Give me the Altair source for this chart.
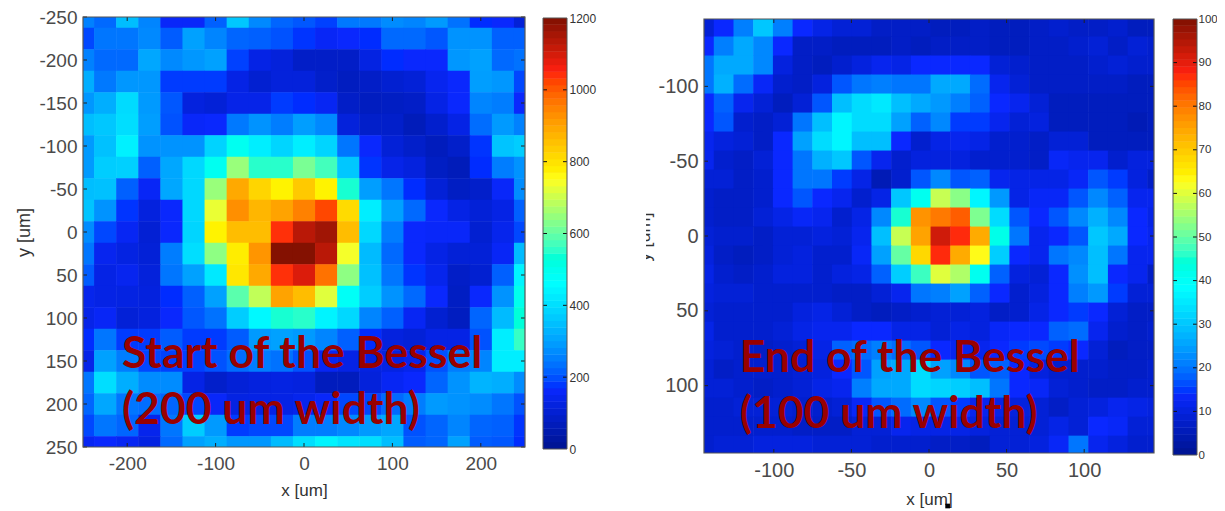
import altair as alt
import pandas as pd

left_rows = [
[255,225,345,260,160,160,215,360,265,220,205,185,245,245,270,260,290,235,170,165,110],
[190,240,240,265,210,300,260,220,215,200,175,155,165,170,225,225,205,280,280,215,215],
[255,225,225,310,265,285,300,185,130,115,85,85,85,125,170,165,165,285,300,225,235],
[320,245,285,285,180,180,180,130,100,115,115,90,75,85,100,110,145,165,295,285,190],
[285,320,395,290,205,120,110,135,135,180,170,150,85,75,80,85,130,165,260,250,165],
[345,360,400,295,200,160,165,245,280,250,295,265,115,90,90,65,95,130,230,290,255],
[290,350,435,280,280,280,380,490,430,385,430,385,240,165,110,90,70,90,175,355,370],
[290,370,375,215,310,390,490,650,550,550,620,570,360,175,135,120,80,65,170,250,280],
[345,350,215,155,310,390,650,890,820,770,840,770,540,295,240,170,110,80,90,160,270],
[355,280,175,120,165,390,730,930,870,900,950,1020,810,430,300,225,165,130,110,130,215],
[270,190,150,105,165,385,770,860,860,1040,1130,1160,860,390,250,165,160,160,100,140,190],
[240,145,125,110,250,400,640,780,920,1195,1195,1130,740,340,225,165,130,110,110,155,340],
[210,130,145,115,240,300,420,790,890,1040,1090,970,640,350,240,175,140,85,100,215,440],
[140,130,125,120,170,215,300,590,690,900,860,720,480,370,280,225,165,80,165,280,500],
[135,155,110,120,165,205,235,370,450,540,550,440,390,260,215,150,100,75,220,340,530],
[170,240,180,180,210,180,180,210,290,300,290,260,215,170,120,110,130,130,200,430,560],
[135,300,250,190,185,185,200,230,250,235,200,150,130,125,125,140,200,250,260,430,430],
[240,400,320,270,270,130,90,110,120,125,120,70,70,115,150,165,220,280,330,320,270],
[220,310,240,230,220,190,160,125,130,130,140,160,190,190,225,250,290,280,270,240,200],
[190,240,220,140,240,370,290,180,190,190,250,250,265,290,310,200,220,260,220,215,175],
[150,165,150,125,225,300,320,285,285,340,400,440,410,400,345,210,220,300,210,205,170],
]
right_rows = [
[9,14,21,30,21,14,11,9,9,7,7,7,6,6,7,6,6,7,8,7,7,8,6,6],
[14,21,26,22,14,7,7,6,6,6,7,6,7,7,7,6,6,7,7,8,9,7,9,8],
[20,26,26,22,10,7,6,8,10,12,11,14,14,14,14,9,8,7,7,7,8,9,8,8],
[20,27,19,13,8,7,10,17,20,21,20,20,26,26,19,12,9,7,7,7,7,7,6,6],
[14,18,12,9,6,9,17,29,33,35,29,26,24,21,18,14,12,9,6,6,6,6,6,6],
[14,17,8,7,9,20,29,37,33,33,25,18,22,15,15,12,9,10,6,6,6,6,5,6],
[12,10,9,7,14,25,33,37,29,29,14,8,11,12,11,8,8,7,9,9,6,6,6,6],
[12,8,7,9,14,20,27,30,17,12,8,10,10,10,8,8,8,7,13,12,12,8,10,10],
[9,9,7,8,14,20,20,15,11,5,8,17,22,17,18,12,11,11,11,13,17,15,10,7],
[8,7,7,8,14,17,14,12,8,11,30,41,58,53,37,24,11,13,13,17,22,18,12,12],
[8,7,7,9,11,13,12,8,11,22,45,77,80,83,52,33,17,14,17,22,27,22,14,11],
[9,8,8,7,9,9,10,9,12,29,58,75,92,87,74,42,20,12,14,17,30,26,14,12],
[10,7,6,7,9,10,8,8,13,25,50,68,87,74,63,31,14,12,20,22,29,20,12,12],
[11,8,7,8,10,10,8,10,11,18,31,47,60,56,41,18,10,9,14,23,29,14,12,7],
[10,9,9,8,8,8,8,7,7,9,12,20,21,25,18,14,8,10,14,21,24,15,9,9],
[9,8,8,8,8,10,11,9,7,6,7,8,9,9,10,7,8,11,14,15,14,9,7,7],
[11,8,8,8,9,11,12,12,14,14,11,11,9,11,10,13,14,14,18,19,12,8,7,8],
[10,9,8,7,8,9,11,18,19,21,19,17,14,12,12,14,15,16,15,14,9,6,7,7],
[9,7,8,8,8,9,10,14,17,25,26,33,25,22,17,18,14,10,8,8,8,7,7,8],
[9,9,8,7,8,9,11,12,21,26,26,33,32,31,29,20,14,13,9,8,7,7,8,8],
[8,8,9,9,9,8,8,9,13,17,19,22,17,15,12,11,10,9,7,9,10,12,11,10],
[8,8,8,8,8,7,7,7,9,9,12,11,11,11,10,9,9,9,11,9,14,13,9,9],
[8,9,9,10,10,10,9,9,9,8,8,8,7,7,6,9,9,10,13,20,12,10,8,8],
]
left_xt = [-200,-100,0,100,200]
left_yt = [-250,-200,-150,-100,-50,0,50,100,150,200,250]
right_xt = [-100,-50,0,50,100]
right_yt = [-100,-50,0,50,100]
left_cb = [0,200,400,600,800,1000,1200]
right_cb = [0,10,20,30,40,50,60,70,80,90,100]
left_text = ["Start of the Bessel", "(200 um width)"]
right_text = ["End of the Bessel", "(100 um width)"]

jet_pos = [0,0.14,0.385,0.625,0.875,1]
jet_col = ["#001490","#0a28ff","#00ffff","#ffff20","#ff2010","#801000"]
FONT = "Liberation Sans"
LAB = "#4a4a4a"
TXT = "#990000"
EXPR = "'' + datum.value"
FRAME = "#555555"

def cells(rows, x0, dx, y0, dy, lo, hi, eps):
    clamp = lambda a: max(lo, min(hi, a))
    out = []
    for r, row in enumerate(rows):
        for c, v in enumerate(row):
            out.append(dict(x=clamp(x0+dx*c), x2=clamp(x0+dx*(c+1)+eps), y=clamp(y0+dy*r), y2=clamp(y0+dy*(r+1)+eps), v=v))
    return pd.DataFrame(out)

def panel(df, dom, xt, yt, vmax, w, top, h, size, xpad, lpad, ypad, ytitle, texts, tx, tys):
    cs = alt.Scale(domain=[p*vmax for p in jet_pos], range=jet_col)
    xs = alt.Scale(domain=dom, nice=False, zero=False)
    ys = alt.Scale(domain=dom, nice=False, zero=False, range=[top, top+h])
    heat = alt.Chart(df).mark_rect().encode(
        x=alt.X("x:Q", scale=xs, axis=alt.Axis(values=xt, title="x [um]", grid=False, domain=False, ticks=False,
            labelFontSize=size, labelColor=LAB, labelFont=FONT, labelPadding=lpad, titleFont=FONT, titleFontSize=17,
            titleFontWeight="normal", titleColor="#333333", titlePadding=xpad, labelExpr=EXPR, labelFlush=False)),
        x2="x2:Q",
        y=alt.Y("y:Q", scale=ys, axis=alt.Axis(values=yt, title=ytitle, grid=False, domain=False, ticks=False,
            labelFontSize=size, labelColor=LAB, labelFont=FONT, labelPadding=6, titleFont=FONT, titleFontSize=18,
            titleFontWeight="normal", titleColor="#333333", titlePadding=ypad, labelExpr=EXPR, labelFlush=False)),
        y2="y2:Q",
        color=alt.Color("v:Q", scale=cs, legend=None),
    )
    xd = pd.DataFrame({"t": xt}); yd = pd.DataFrame({"t": yt})
    tick = dict(color="#222222", strokeWidth=1)
    t1 = alt.Chart(xd).mark_rule(**tick).encode(x=alt.X("t:Q", scale=xs), y=alt.value(top), y2=alt.value(top+4))
    t2 = alt.Chart(xd).mark_rule(**tick).encode(x=alt.X("t:Q", scale=xs), y=alt.value(top+h-4), y2=alt.value(top+h))
    t3 = alt.Chart(yd).mark_rule(**tick).encode(y=alt.Y("t:Q", scale=ys), x=alt.value(0), x2=alt.value(4))
    t4 = alt.Chart(yd).mark_rule(**tick).encode(y=alt.Y("t:Q", scale=ys), x=alt.value(w-4), x2=alt.value(w))
    frame = alt.Chart(pd.DataFrame({"a": [0]})).mark_rect(filled=False, stroke=FRAME, strokeWidth=1.2).encode(
        x=alt.value(0), x2=alt.value(w), y=alt.value(top), y2=alt.value(top+h))
    td = pd.DataFrame({"s": texts, "x": [tx, tx], "y": tys})
    label = alt.Chart(td).mark_text(font="Lato", fontWeight="bold", fontSize=44.5, color=TXT, align="left", baseline="alphabetic").encode(
        x=alt.X("x:Q", scale=xs), y=alt.Y("y:Q", scale=ys), text="s:N")
    return [heat, t1, t2, t3, t4, frame, label], xs

def colorbar(vals, vmax, top, h, fsize, pad):
    n = 64
    cs = alt.Scale(domain=[p*vmax for p in jet_pos], range=jet_col)
    df = pd.DataFrame([dict(a=vmax*i/n, b=vmax*(i+1)/n+vmax*0.001, m=vmax*(i+0.5)/n) for i in range(n)])
    ys = alt.Scale(domain=[0, vmax], nice=False, zero=False, clamp=True, range=[top+h, top])
    bar = alt.Chart(df).mark_rect().encode(
        x=alt.value(0), x2=alt.value(24),
        y=alt.Y("a:Q", scale=ys, axis=alt.Axis(orient="right", values=vals, title=None, grid=False, domain=False, ticks=False,
            labelFontSize=fsize, labelColor="#333333", labelFont=FONT, labelPadding=pad, labelFlush=False, labelExpr=EXPR)),
        y2="b:Q",
        color=alt.Color("m:Q", scale=cs, legend=None))
    td = pd.DataFrame({"t": vals[1:-1]})
    t1 = alt.Chart(td).mark_rule(color="#111111").encode(y=alt.Y("t:Q", scale=ys), x=alt.value(0), x2=alt.value(4))
    t2 = alt.Chart(td).mark_rule(color="#111111").encode(y=alt.Y("t:Q", scale=ys), x=alt.value(20), x2=alt.value(24))
    frame = alt.Chart(pd.DataFrame({"a": [0]})).mark_rect(filled=False, stroke=FRAME, strokeWidth=1).encode(
        x=alt.value(0), x2=alt.value(24), y=alt.value(top), y2=alt.value(top+h))
    return alt.layer(bar, t1, t2, frame).properties(width=24, height=top+h)

def gap(w):
    return alt.Chart(pd.DataFrame({"a": [0]})).mark_point(opacity=0).encode(x=alt.value(0)).properties(width=w, height=1)

L_W, L_H = 442, 430
R_W, R_H = 450, 434
ldf = cells(left_rows, -262.5, 25, -262.5, 25, -250, 250, 0.6)
rdf = cells(right_rows, -151.4, 12.7, -146, 12.7, -145, 145, 0.35)

o1, _ = panel(ldf, [-250,250], left_xt, left_yt, 1200, L_W, 0, L_H, 19, 9, 7, 5, "y [um]", left_text, -206, [158, 223])
o2, xs2 = panel(rdf, [-145,145], right_xt, right_yt, 100, R_W, 2, R_H, 20, 11, 7, 0, None, right_text, -122, [91, 128.6])
p1 = alt.layer(*o1).properties(width=L_W, height=L_H)

ylab = alt.Chart(pd.DataFrame({"s": ["y [um]"]})).mark_text(font=FONT, fontSize=18, angle=270, color="#333333").encode(
    x=alt.value(-59), y=alt.value(220), text="s:N")
cover = alt.Chart(pd.DataFrame({"s": ["y [um]"]})).mark_rect(color="white").encode(
    x=alt.value(-75), x2=alt.value(-58), y=alt.value(175), y2=alt.value(265))
dot = alt.Chart(pd.DataFrame({"x": [12]})).mark_square(color="black", size=22, opacity=1).encode(
    x=alt.X("x:Q", scale=xs2), y=alt.value(489))
p2 = alt.layer(*o2, ylab, cover, dot).properties(width=R_W, height=R_H+2)

cb1 = colorbar(left_cb, 1200, 1, 431, 12, 2)
cb2 = colorbar(right_cb, 100, 2, 436, 11.5, 1)

chart = alt.hconcat(p1, gap(18), cb1, gap(137), p2, gap(19), cb2, spacing=0, bounds="flush").resolve_scale(
    color="independent"
).properties(
    autosize=alt.AutoSizeParams(type="none"),
    padding={"left": 75, "top": 9, "right": 1134, "bottom": 494}, background="white"
).configure_view(stroke=None)

chart.save("out.html", embed_options={"renderer": "svg", "actions": False})
